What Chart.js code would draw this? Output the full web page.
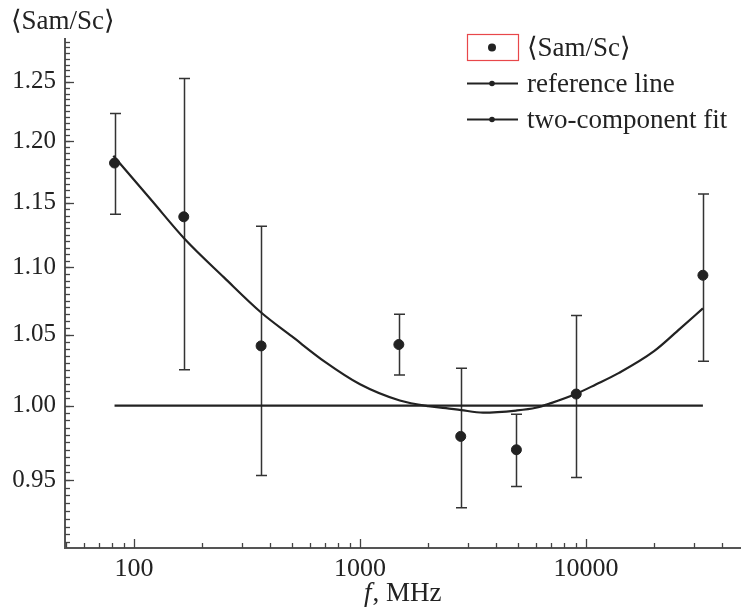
<!DOCTYPE html>
<html>
<head>
<meta charset="utf-8">
<script src="https://cdn.jsdelivr.net/npm/chart.js@4.4.1/dist/chart.umd.min.js"></script>
<style>
  body { margin: 0; background: #fff; }
  #wrap { width: 741px; height: 609px; }
</style>
</head>
<body>
<div id="wrap"><canvas id="samChart" width="741" height="609"></canvas></div>
<script>
// measured points, f in MHz
const freq = [82, 166, 365, 1485, 2790, 4920, 9050, 32900];
const ratio = [1.182, 1.139, 1.042, 1.043, 0.979, 0.970, 1.008, 1.094];
const errHigh = [1.223, 1.253, 1.1315, 1.065, 1.026, 0.994, 1.064, 1.157];
const errLow = [1.141, 1.025, 0.953, 1.0214, 0.932, 0.9458, 0.9517, 1.031];

// reference line (ratio = 1)
const refX = [82, 32900];
const refY = [1.0, 1.0];

// two-component fit
const fitX = [81, 120, 168, 250, 365, 500, 700, 1000, 1500, 2000, 2400, 2800, 3500, 4900, 6000, 7000, 9000, 11000, 14000, 20000, 26000, 32900];
const fitY = [1.188, 1.1516, 1.1215, 1.0924, 1.0663, 1.0488, 1.0306, 1.0148, 1.0035, 0.9996, 0.9983, 0.9969, 0.9952, 0.9966, 0.9985, 1.0017, 1.008, 1.0145, 1.0228, 1.0382, 1.0543, 1.0693];

const xLabels = [100, 1000, 10000];
const yLabels = [0.95, 1.00, 1.05, 1.10, 1.15, 1.20, 1.25];

const FONT = '"Liberation Serif", "DejaVu Serif", serif';
const INK = '#222';

let xMinor = [];
[10, 100, 1000, 10000].forEach(d => {
    for (let k = 2; k <= 9; k++) xMinor.push(k * d);
});
xMinor = xMinor.filter(v => v >= 50 && v <= 48000);
let yMinor = [];
for (let i = 182; i <= 257; i++) yMinor.push(i * 0.005);

const decorations = {
    id: 'decorations',
    beforeDatasetsDraw(chart) {
        const ctx = chart.ctx;
        const xs = chart.scales.x, ys = chart.scales.y;
        const area = chart.chartArea;
        ctx.save();
        ctx.strokeStyle = '#444';
        ctx.lineWidth = 1.3;
        // inward ticks
        xMinor.forEach(v => {
            const px = Math.round(xs.getPixelForValue(v)) + 0.5;
            ctx.beginPath(); ctx.moveTo(px, area.bottom); ctx.lineTo(px, area.bottom - 5); ctx.stroke();
        });
        xLabels.forEach(v => {
            const px = Math.round(xs.getPixelForValue(v)) + 0.5;
            ctx.beginPath(); ctx.moveTo(px, area.bottom); ctx.lineTo(px, area.bottom - 9); ctx.stroke();
        });
        yMinor.forEach(v => {
            const py = Math.round(ys.getPixelForValue(v)) + 0.5;
            if (py < area.top) return;
            ctx.beginPath(); ctx.moveTo(area.left, py); ctx.lineTo(area.left + 5, py); ctx.stroke();
        });
        yLabels.forEach(v => {
            const py = Math.round(ys.getPixelForValue(v)) + 0.5;
            ctx.beginPath(); ctx.moveTo(area.left, py); ctx.lineTo(area.left + 9, py); ctx.stroke();
        });
        // error bars
        ctx.strokeStyle = '#333';
        ctx.lineWidth = 1.5;
        freq.forEach((f, i) => {
            const px = Math.round(xs.getPixelForValue(f)) + 0.5;
            const top = ys.getPixelForValue(errHigh[i]);
            const bot = ys.getPixelForValue(errLow[i]);
            ctx.beginPath();
            ctx.moveTo(px, top); ctx.lineTo(px, bot);
            ctx.moveTo(px - 5.5, top); ctx.lineTo(px + 5.5, top);
            ctx.moveTo(px - 5.5, bot); ctx.lineTo(px + 5.5, bot);
            ctx.stroke();
        });
        ctx.restore();
    },
    afterDraw(chart) {
        const ctx = chart.ctx;
        ctx.save();
        ctx.fillStyle = INK;
        ctx.textBaseline = 'alphabetic';
        ctx.textAlign = 'left';
        // axis titles
        ctx.font = '27px ' + FONT;
        ctx.fillText('\u27E8Sam/Sc\u27E9', 11, 29);
        ctx.font = 'italic 27px ' + FONT;
        ctx.fillText('f', 364, 601);
        const fw = ctx.measureText('f').width;
        ctx.font = '27px ' + FONT;
        ctx.fillText(', MHz', 364 + fw + 1, 601);

        // legend
        const lx0 = 467, lx1 = 518, lmid = 492;
        ctx.strokeStyle = '#e8474a';
        ctx.lineWidth = 1.2;
        ctx.strokeRect(467.5, 34.5, 51, 26);
        ctx.beginPath(); ctx.arc(lmid, 47.5, 4, 0, Math.PI * 2); ctx.fill();
        ctx.strokeStyle = INK;
        ctx.lineWidth = 2;
        [83.5, 119.5].forEach(y => {
            ctx.beginPath(); ctx.moveTo(lx0, y); ctx.lineTo(lx1, y); ctx.stroke();
            ctx.beginPath(); ctx.arc(lmid, y, 2.8, 0, Math.PI * 2); ctx.fill();
        });
        ctx.font = '27px ' + FONT;
        ctx.fillText('\u27E8Sam/Sc\u27E9', 527, 56);
        ctx.fillText('reference line', 527, 92);
        ctx.fillText('two-component fit', 527, 128);
        ctx.restore();
    }
};

const ctx = document.getElementById('samChart').getContext('2d');
new Chart(ctx, {
    type: 'scatter',
    data: {
        datasets: [
            {
                label: 'reference line',
                type: 'line',
                data: refX.map((x, i) => ({ x: x, y: refY[i] })),
                borderColor: INK,
                borderWidth: 2.2,
                pointRadius: 0,
                fill: false,
            },
            {
                label: 'two-component fit',
                type: 'line',
                data: fitX.map((x, i) => ({ x: x, y: fitY[i] })),
                borderColor: INK,
                borderWidth: 2.2,
                pointRadius: 0,
                cubicInterpolationMode: 'monotone',
                fill: false,
            },
            {
                label: '\u27E8Sam/Sc\u27E9',
                data: freq.map((x, i) => ({ x: x, y: ratio[i] })),
                backgroundColor: INK,
                borderColor: INK,
                pointRadius: 5,
                pointHoverRadius: 5,
            },
        ],
    },
    options: {
        responsive: false,
        animation: false,
        layout: { autoPadding: false, padding: { top: 39, right: 0, left: 0, bottom: 0 } },
        plugins: {
            legend: { display: false },
            tooltip: { enabled: false },
        },
        scales: {
            x: {
                type: 'logarithmic',
                min: 49.5,
                max: 48500,
                afterFit: (s) => { s.height = 61; },
                afterBuildTicks: (s) => { s.ticks = xLabels.map(v => ({ value: v })); },
                grid: { display: false, drawTicks: false },
                border: { display: true, color: '#555', width: 2 },
                ticks: {
                    autoSkip: false,
                    maxRotation: 0,
                    padding: 6,
                    color: INK,
                    font: { family: FONT, size: 26 },
                    callback: (v) => String(v),
                },
            },
            y: {
                type: 'logarithmic',
                min: 0.9065,
                max: 1.2875,
                afterFit: (s) => { s.width = 65; },
                afterBuildTicks: (s) => { s.ticks = yLabels.map(v => ({ value: v })); },
                grid: { display: false, drawTicks: false },
                border: { display: true, color: '#555', width: 2 },
                ticks: {
                    autoSkip: false,
                    padding: 9,
                    color: INK,
                    font: { family: FONT, size: 25 },
                    callback: (v) => Number(v).toFixed(2),
                },
            },
        },
    },
    plugins: [decorations],
});
</script>
</body>
</html>
